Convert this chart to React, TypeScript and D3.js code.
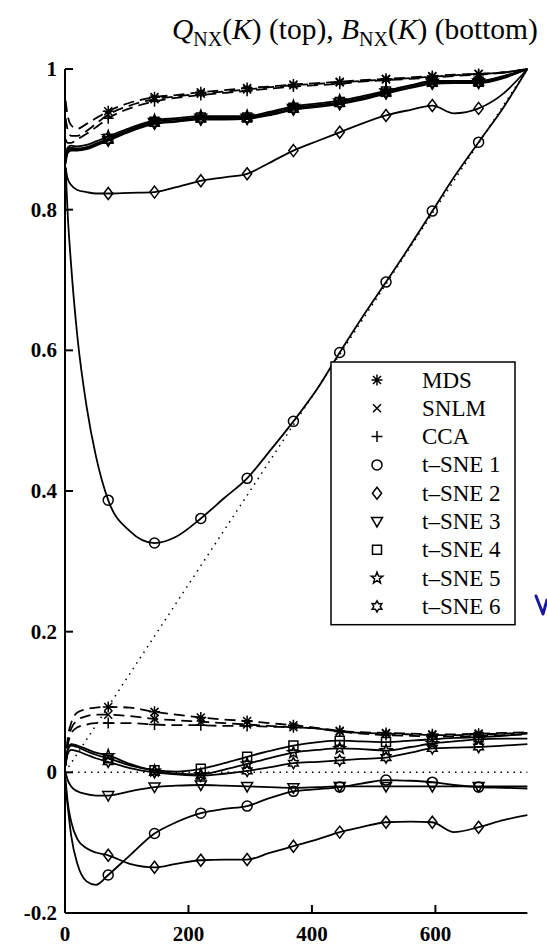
import React from "react";
import * as d3 from "d3";

// Neighbourhood sizes K at which the quality curves were evaluated
const kValues = [1, 4, 10, 20, 35, 50, 70, 105, 145, 180, 220, 258, 295, 330, 370, 410, 445, 480, 520, 560, 595, 630, 670, 710, 749];
// K values that carry a marker symbol
const markerK = [70, 145, 220, 295, 370, 445, 520, 595, 670];

// Q_NX(K) curves (top group)
const qMDS = [0.955, 0.935, 0.92, 0.915, 0.922, 0.93, 0.94, 0.952, 0.96, 0.963, 0.967, 0.97, 0.973, 0.975, 0.978, 0.98, 0.982, 0.984, 0.986, 0.988, 0.99, 0.992, 0.993, 0.995, 1.0];
const qSNLM = [0.93, 0.915, 0.905, 0.905, 0.912, 0.922, 0.935, 0.948, 0.957, 0.961, 0.965, 0.968, 0.971, 0.974, 0.977, 0.979, 0.981, 0.983, 0.985, 0.987, 0.989, 0.991, 0.993, 0.995, 1.0];
const qCCA = [0.9, 0.895, 0.895, 0.9, 0.908, 0.917, 0.93, 0.944, 0.954, 0.959, 0.963, 0.966, 0.969, 0.972, 0.975, 0.977, 0.979, 0.982, 0.984, 0.986, 0.988, 0.99, 0.992, 0.995, 1.0];
const qTSNE1 = [0.86, 0.8, 0.72, 0.62, 0.52, 0.45, 0.387, 0.343, 0.326, 0.335, 0.361, 0.39, 0.418, 0.455, 0.499, 0.547, 0.597, 0.645, 0.697, 0.75, 0.798, 0.846, 0.896, 0.945, 1.0];
const qTSNE2 = [0.86, 0.845, 0.835, 0.828, 0.825, 0.823, 0.823, 0.824, 0.825, 0.832, 0.841, 0.846, 0.851, 0.866, 0.884, 0.898, 0.91, 0.922, 0.934, 0.942, 0.948, 0.937, 0.944, 0.965, 1.0];
const qTSNE3 = [0.865, 0.88, 0.884, 0.884, 0.886, 0.891, 0.898, 0.911, 0.922, 0.925, 0.928, 0.928, 0.929, 0.934, 0.942, 0.946, 0.95, 0.956, 0.965, 0.973, 0.979, 0.98, 0.98, 0.987, 1.0];
const qTSNE4 = [0.87, 0.885, 0.888, 0.887, 0.889, 0.894, 0.901, 0.914, 0.925, 0.928, 0.931, 0.931, 0.931, 0.937, 0.945, 0.949, 0.953, 0.959, 0.968, 0.976, 0.982, 0.982, 0.982, 0.989, 1.0];
const qTSNE5 = [0.875, 0.888, 0.891, 0.89, 0.892, 0.897, 0.904, 0.916, 0.927, 0.93, 0.933, 0.933, 0.933, 0.939, 0.947, 0.951, 0.955, 0.961, 0.969, 0.977, 0.983, 0.983, 0.983, 0.99, 1.0];
const qTSNE6 = [0.868, 0.882, 0.886, 0.885, 0.887, 0.892, 0.899, 0.912, 0.923, 0.926, 0.929, 0.929, 0.93, 0.935, 0.943, 0.947, 0.951, 0.957, 0.966, 0.974, 0.98, 0.981, 0.981, 0.988, 1.0];

// B_NX(K) curves (bottom group)
const bMDS = [0.01, 0.045, 0.07, 0.085, 0.09, 0.092, 0.093, 0.092, 0.086, 0.082, 0.078, 0.075, 0.073, 0.07, 0.067, 0.063, 0.059, 0.057, 0.056, 0.055, 0.054, 0.054, 0.055, 0.056, 0.057];
const bSNLM = [0.01, 0.04, 0.062, 0.074, 0.08, 0.082, 0.082, 0.08, 0.076, 0.074, 0.072, 0.07, 0.068, 0.066, 0.064, 0.062, 0.058, 0.056, 0.055, 0.054, 0.053, 0.053, 0.054, 0.055, 0.056];
const bCCA = [0.01, 0.035, 0.055, 0.064, 0.068, 0.07, 0.07, 0.07, 0.068, 0.067, 0.067, 0.066, 0.066, 0.065, 0.064, 0.062, 0.058, 0.055, 0.053, 0.052, 0.051, 0.051, 0.052, 0.053, 0.054];
const bTSNE1 = [-0.02, -0.045, -0.09, -0.13, -0.155, -0.16, -0.146, -0.118, -0.087, -0.071, -0.058, -0.052, -0.048, -0.037, -0.027, -0.024, -0.021, -0.016, -0.011, -0.012, -0.014, -0.018, -0.021, -0.022, -0.023];
const bTSNE2 = [-0.01, -0.04, -0.07, -0.095, -0.108, -0.114, -0.118, -0.13, -0.135, -0.13, -0.125, -0.124, -0.124, -0.115, -0.105, -0.095, -0.085, -0.078, -0.071, -0.07, -0.071, -0.085, -0.078, -0.068, -0.061];
const bTSNE3 = [0.0, -0.01, -0.02, -0.027, -0.031, -0.033, -0.033, -0.027, -0.021, -0.019, -0.018, -0.019, -0.02, -0.021, -0.022, -0.021, -0.02, -0.02, -0.02, -0.02, -0.02, -0.02, -0.02, -0.02, -0.02];
const bTSNE4 = [0.01, 0.03, 0.038, 0.036, 0.03, 0.025, 0.02, 0.01, 0.003, 0.001, 0.005, 0.013, 0.022, 0.03, 0.038, 0.043, 0.045, 0.044, 0.043, 0.045, 0.047, 0.049, 0.05, 0.052, 0.055];
const bTSNE5 = [0.01, 0.032, 0.04, 0.038, 0.033, 0.028, 0.024, 0.012, 0.002, -0.002, -0.003, 0.004, 0.012, 0.02, 0.028, 0.032, 0.034, 0.033, 0.031, 0.036, 0.041, 0.044, 0.047, 0.048, 0.048];
const bTSNE6 = [0.01, 0.025, 0.032, 0.03, 0.025, 0.02, 0.015, 0.006, 0.0, -0.003, -0.005, -0.002, 0.002, 0.007, 0.013, 0.015, 0.017, 0.019, 0.021, 0.028, 0.034, 0.035, 0.036, 0.038, 0.04];

// Reference levels: random embedding Q = K/(N-1), and B = 0
const baselineK = [0, 749];
const baselineQ = [0, 1];
const baselineB = [0, 0];

const methodNames = ["MDS", "SNLM", "CCA", "t\u2013SNE 1", "t\u2013SNE 2", "t\u2013SNE 3", "t\u2013SNE 4", "t\u2013SNE 5", "t\u2013SNE 6"];
const methodMarkers = ["asterisk", "x", "plus", "circle", "diamond", "triangle", "square", "pentagram", "hexagram"];
const methodDashed = [true, true, true, false, false, false, false, false, false];
const qSeries = [qMDS, qSNLM, qCCA, qTSNE1, qTSNE2, qTSNE3, qTSNE4, qTSNE5, qTSNE6];
const bSeries = [bMDS, bSNLM, bCCA, bTSNE1, bTSNE2, bTSNE3, bTSNE4, bTSNE5, bTSNE6];

const yTicks = [-0.2, 0, 0.2, 0.4, 0.6, 0.8, 1];
const yTickLabels = ["-0.2", "0", "0.2", "0.4", "0.6", "0.8", "1"];
const xTicks = [0, 200, 400, 600];
const xTickLabels = ["0", "200", "400", "600"];

const W = 547;
const H = 945;
const FONT = "'Liberation Serif', 'Times New Roman', serif";

function starPath(points: number, rOuter: number, rInner: number): string {
  const pts: string[] = [];
  for (let i = 0; i < points * 2; i++) {
    const r = i % 2 === 0 ? rOuter : rInner;
    const a = (Math.PI * i) / points - Math.PI / 2;
    pts.push(`${(r * Math.cos(a)).toFixed(2)},${(r * Math.sin(a)).toFixed(2)}`);
  }
  return "M" + pts.join("L") + "Z";
}

function markerPath(kind: string): string {
  switch (kind) {
    case "asterisk":
      return "M-5.5,0L5.5,0M0,-5.5L0,5.5M-4,-4L4,4M-4,4L4,-4";
    case "x":
      return "M-4,-4L4,4M-4,4L4,-4";
    case "plus":
      return "M-5.5,0L5.5,0M0,-5.5L0,5.5";
    case "circle":
      return "M5,0A5,5 0 1,1 -5,0A5,5 0 1,1 5,0Z";
    case "diamond":
      return "M0,-6L4.6,0L0,6L-4.6,0Z";
    case "triangle":
      return "M-5.5,-4L5.5,-4L0,5.5Z";
    case "square":
      return "M-4.5,-4.5L4.5,-4.5L4.5,4.5L-4.5,4.5Z";
    case "pentagram":
      return starPath(5, 6, 2.5);
    case "hexagram":
      return starPath(6, 5.6, 3.2);
    default:
      return "";
  }
}

export default function App() {
  const x = d3.scaleLinear().domain([0, 750]).range([65, 528]);
  const y = d3.scaleLinear().domain([-0.2, 1]).range([913, 69]);

  const line = d3
    .line<[number, number]>()
    .x((d) => x(d[0]))
    .y((d) => y(d[1]))
    .curve(d3.curveMonotoneX);
  const straight = d3
    .line<[number, number]>()
    .x((d) => x(d[0]))
    .y((d) => y(d[1]));

  const pairs = (vals: number[]): [number, number][] => kValues.map((k, i) => [k, vals[i]]);
  const markerPoints = (vals: number[]): [number, number][] =>
    kValues.map((k, i) => [k, vals[i]] as [number, number]).filter((p) => markerK.includes(p[0]));

  const legendX = 331;
  const legendY = 362;
  const legendW = 184;
  const rowH = 28.3;
  const legendH = rowH * methodNames.length + 8;

  return (
    <svg
      width={W}
      height={H}
      viewBox={`0 0 ${W} ${H}`}
      style={{ position: "absolute", left: 0, top: 0, background: "#fff" }}
    >
      <rect x={0} y={0} width={W} height={H} fill="#fff" />

      {/* title */}
      <text x={172} y={39} fontFamily={FONT} fontSize={29.5} fill="#000">
        <tspan fontStyle="italic">Q</tspan>
        <tspan fontSize={20} dy={7}>NX</tspan>
        <tspan dy={-7}>(</tspan>
        <tspan fontStyle="italic">K</tspan>
        <tspan>) (top), </tspan>
        <tspan fontStyle="italic">B</tspan>
        <tspan fontSize={20} dy={7}>NX</tspan>
        <tspan dy={-7}>(</tspan>
        <tspan fontStyle="italic">K</tspan>
        <tspan>) (bottom)</tspan>
      </text>

      {/* reference levels */}
      <path
        d={straight(baselineK.map((k, i) => [k, baselineQ[i]]) as [number, number][]) || ""}
        fill="none"
        stroke="#000"
        strokeWidth={1.5}
        strokeDasharray="1.5,5"
      />
      <path
        d={straight(baselineK.map((k, i) => [k, baselineB[i]]) as [number, number][]) || ""}
        fill="none"
        stroke="#000"
        strokeWidth={1.5}
        strokeDasharray="1.5,5"
      />

      {/* curves */}
      {methodNames.map((name, m) => (
        <g key={name}>
          {[qSeries[m], bSeries[m]].map((vals, j) => (
            <g key={j}>
              <path
                d={line(pairs(vals)) || ""}
                fill="none"
                stroke="#000"
                strokeWidth={1.8}
                strokeDasharray={methodDashed[m] ? "11,6" : undefined}
              />
              {markerPoints(vals).map((p, i) => (
                <path
                  key={i}
                  d={markerPath(methodMarkers[m])}
                  transform={`translate(${x(p[0])},${y(p[1])})`}
                  fill="none"
                  stroke="#000"
                  strokeWidth={1.5}
                />
              ))}
            </g>
          ))}
        </g>
      ))}

      {/* axes */}
      <g stroke="#000" strokeWidth={2} fill="none">
        <line x1={65} y1={y(1)} x2={65} y2={y(-0.2)} />
        <line x1={65} y1={y(-0.2)} x2={x(749)} y2={y(-0.2)} />
        {yTicks.map((t) => (
          <line key={t} x1={65} y1={y(t)} x2={73} y2={y(t)} />
        ))}
        {xTicks.map((t) => (
          <line key={t} x1={x(t)} y1={y(-0.2)} x2={x(t)} y2={y(-0.2) - 8} />
        ))}
      </g>
      {yTicks.map((t, i) => (
        <text
          key={t}
          x={57}
          y={y(t)}
          textAnchor="end"
          dominantBaseline="central"
          fontFamily={FONT}
          fontWeight="bold"
          fontSize={21}
          fill="#000"
        >
          {yTickLabels[i]}
        </text>
      ))}
      {xTicks.map((t, i) => (
        <text
          key={t}
          x={x(t)}
          y={941}
          textAnchor="middle"
          fontFamily={FONT}
          fontWeight="bold"
          fontSize={21}
          fill="#000"
        >
          {xTickLabels[i]}
        </text>
      ))}

      {/* legend */}
      <rect x={legendX} y={legendY} width={legendW} height={legendH} fill="#fff" stroke="#000" strokeWidth={1.5} />
      {methodNames.map((name, m) => {
        const cy = legendY + 18 + m * rowH;
        return (
          <g key={name}>
            <path
              d={markerPath(methodMarkers[m])}
              transform={`translate(${legendX + 46},${cy})`}
              fill="none"
              stroke="#000"
              strokeWidth={1.5}
            />
            <text
              x={legendX + 91}
              y={cy}
              dominantBaseline="central"
              fontFamily={FONT}
              fontSize={23}
              fill="#000"
            >
              {name}
            </text>
          </g>
        );
      })}

      {/* stray blue pen stroke at the right margin */}
      <path d="M536,596L543,614L547,600" fill="none" stroke="#1a1aa0" strokeWidth={3} strokeLinecap="round" strokeLinejoin="round" />
    </svg>
  );
}
